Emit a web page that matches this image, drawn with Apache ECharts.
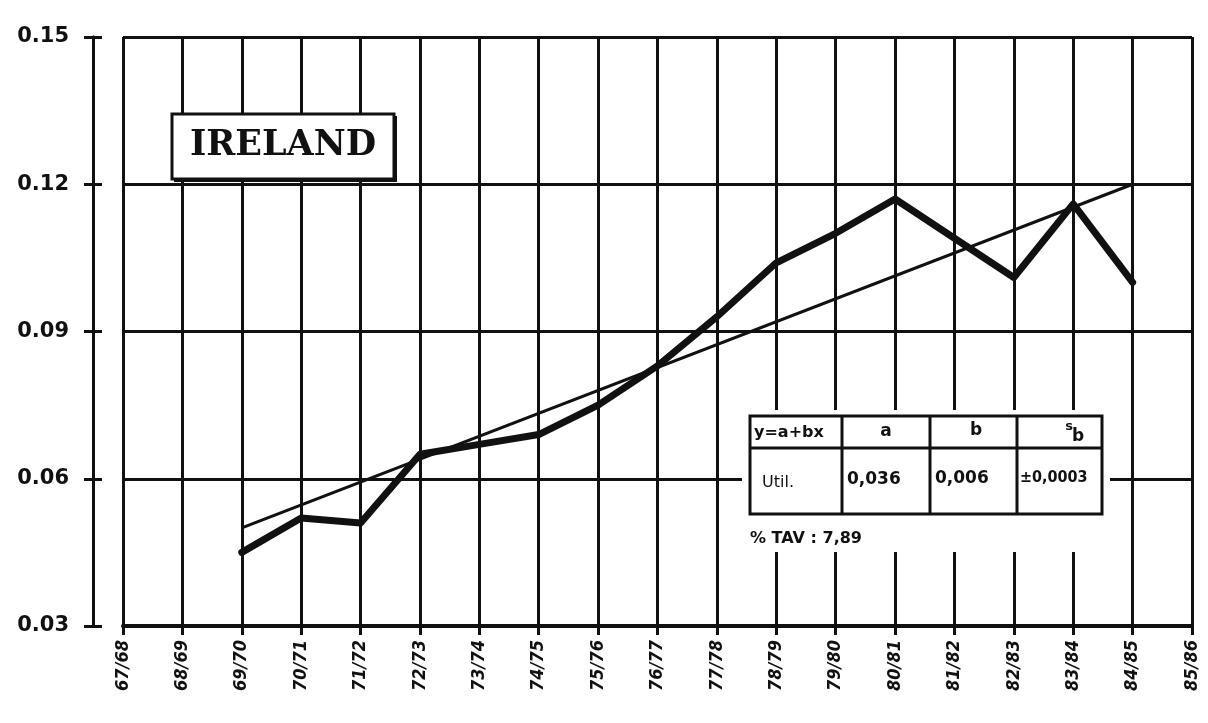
<!DOCTYPE html>
<html>
<head>
<meta charset="utf-8">
<script src="https://cdn.jsdelivr.net/npm/echarts@6/dist/echarts.min.js"></script>
<style>
  html, body { margin: 0; padding: 0; background: #fff; }
  #chart { width: 1208px; height: 723px; }
</style>
</head>
<body>
<div id="chart"></div>
<script>
  // campaign years on the x axis
  var years = ['67/68', '68/69', '69/70', '70/71', '71/72', '72/73', '73/74', '74/75', '75/76',
               '76/77', '77/78', '78/79', '79/80', '80/81', '81/82', '82/83', '83/84', '84/85', '85/86'];
  // observed utilisation (thick line)
  var util = [null, null, 0.045, 0.052, 0.051, 0.065, 0.067, 0.069, 0.075,
              0.083, 0.093, 0.104, 0.110, 0.117, 0.109, 0.101, 0.116, 0.100, null];
  // fitted trend y = a + bx, end points only (thin line)
  var trend = [null, null, 0.050, null, null, null, null, null, null,
               null, null, null, null, null, null, null, null, 0.120, null];
  var yMin = 0.03, yMax = 0.15, yStep = 0.03;
  // regression table
  var tableHead = ['y=a+bx', 'a', 'b'];
  var tableRow = ['Util.', '0,036', '0,006', '±0,0003'];
  var tavText = '% TAV : 7,89';

  var ink = '#111';
  var chart = echarts.init(document.getElementById('chart'));

  var numFont = 'bold 17px "DejaVu Sans"';
  var table = [
    // white patch that breaks the grid round the table
    { type: 'rect', z: 100, shape: { x: 742, y: 410, width: 368, height: 142 }, style: { fill: '#fff' } },
    { type: 'rect', z: 101, shape: { x: 750, y: 416, width: 352, height: 98 }, style: { fill: '#fff', stroke: ink, lineWidth: 3 } },
    { type: 'line', z: 101, shape: { x1: 750, y1: 448, x2: 1102, y2: 448 }, style: { stroke: ink, lineWidth: 3 } },
    { type: 'line', z: 101, shape: { x1: 842, y1: 416, x2: 842, y2: 514 }, style: { stroke: ink, lineWidth: 3 } },
    { type: 'line', z: 101, shape: { x1: 930, y1: 416, x2: 930, y2: 514 }, style: { stroke: ink, lineWidth: 3 } },
    { type: 'line', z: 101, shape: { x1: 1017, y1: 416, x2: 1017, y2: 514 }, style: { stroke: ink, lineWidth: 3 } },
    { type: 'text', z: 102, style: { text: tableHead[0], x: 754, y: 433, font: 'bold 16px "DejaVu Sans"', fill: ink, textAlign: 'left', textVerticalAlign: 'middle' } },
    { type: 'text', z: 102, style: { text: tableHead[1], x: 886, y: 432, font: numFont, fill: ink, textAlign: 'center', textVerticalAlign: 'middle' } },
    { type: 'text', z: 102, style: { text: tableHead[2], x: 976, y: 431, font: numFont, fill: ink, textAlign: 'center', textVerticalAlign: 'middle' } },
    { type: 'text', z: 102, style: { text: 's', x: 1069, y: 427, font: 'bold 13px "DejaVu Sans"', fill: ink, textAlign: 'center', textVerticalAlign: 'middle' } },
    { type: 'text', z: 102, style: { text: 'b', x: 1078, y: 437, font: numFont, fill: ink, textAlign: 'center', textVerticalAlign: 'middle' } },
    { type: 'text', z: 102, style: { text: tableRow[0], x: 762, y: 483, font: '16px "DejaVu Sans"', fill: ink, textAlign: 'left', textVerticalAlign: 'middle' } },
    { type: 'text', z: 102, style: { text: tableRow[1], x: 847, y: 480, font: numFont, fill: ink, textAlign: 'left', textVerticalAlign: 'middle' } },
    { type: 'text', z: 102, style: { text: tableRow[2], x: 935, y: 479, font: numFont, fill: ink, textAlign: 'left', textVerticalAlign: 'middle' } },
    { type: 'text', z: 102, style: { text: tableRow[3], x: 1020, y: 478, font: 'bold 16px "DejaVu Sans Condensed"', fill: ink, textAlign: 'left', textVerticalAlign: 'middle' } },
    { type: 'text', z: 102, style: { text: tavText, x: 750, y: 539, font: 'bold 16px "DejaVu Sans"', fill: ink, textAlign: 'left', textVerticalAlign: 'middle' } }
  ];

  var title = [
    { type: 'rect', z: 100, shape: { x: 174, y: 116, width: 223, height: 66 }, style: { fill: ink } },
    { type: 'rect', z: 101, shape: { x: 172, y: 114, width: 222, height: 65 }, style: { fill: '#fff', stroke: ink, lineWidth: 3 } },
    { type: 'text', z: 102, style: { text: 'IRELAND', x: 283, y: 146, font: 'bold 35px "DejaVu Serif"', fill: ink, textAlign: 'center', textVerticalAlign: 'middle' } }
  ];

  chart.setOption({
    backgroundColor: '#fff',
    animation: false,
    grid: { left: 123, right: 16, top: 37, bottom: 97 },
    xAxis: {
      type: 'category',
      data: years,
      boundaryGap: false,
      axisLine: { lineStyle: { color: ink, width: 4 } },
      axisTick: { show: true, length: 9, interval: 0, lineStyle: { color: ink, width: 3 } },
      axisLabel: {
        interval: 0, rotate: 90, margin: 14, color: ink,
        fontFamily: 'DejaVu Sans Condensed', fontStyle: 'italic', fontWeight: 'bold', fontSize: 18
      },
      splitLine: { show: true, interval: 0, lineStyle: { color: ink, width: 3 } }
    },
    yAxis: [{
      type: 'value', min: yMin, max: yMax, interval: yStep, offset: 30,
      axisLine: { show: true, lineStyle: { color: ink, width: 3 } },
      axisTick: { show: true, length: 9, lineStyle: { color: ink, width: 3 } },
      axisLabel: {
        margin: 24, color: ink, fontFamily: 'DejaVu Sans', fontWeight: 'bold', fontSize: 21,
        formatter: function (v) { return v.toFixed(2); }
      },
      splitLine: { show: true, lineStyle: { color: ink, width: 3 } }
    }, {
      type: 'value', min: yMin, max: yMax, interval: yStep, position: 'left', offset: 30,
      axisLine: { show: true, lineStyle: { color: ink, width: 3 } },
      axisTick: { show: true, inside: true, length: 9, lineStyle: { color: ink, width: 3 } },
      axisLabel: { show: false },
      splitLine: { show: false }
    }],
    series: [{
      name: 'Trend', type: 'line', data: trend, connectNulls: true,
      showSymbol: false, symbol: 'none', z: 3,
      lineStyle: { color: ink, width: 3 }
    }, {
      name: 'Util.', type: 'line', data: util,
      showSymbol: false, symbol: 'none', z: 4,
      lineStyle: { color: ink, width: 7, join: 'round', cap: 'round' }
    }],
    graphic: title.concat(table)
  });
</script>
</body>
</html>
